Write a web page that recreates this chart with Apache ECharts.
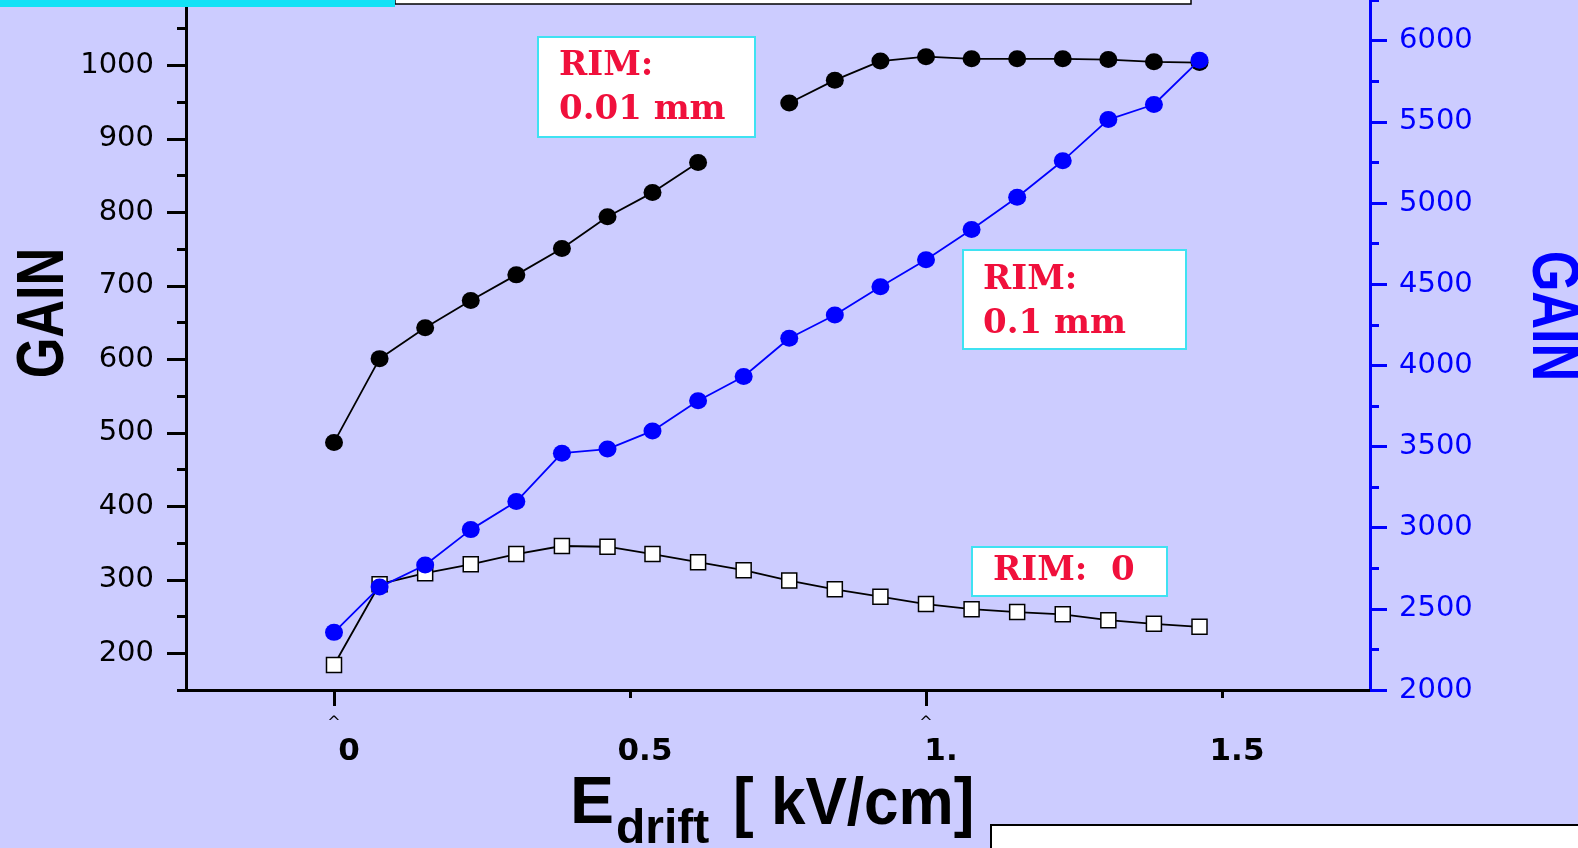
<!DOCTYPE html>
<html>
<head>
<meta charset="utf-8">
<title>GAIN vs E drift</title>
<script src="https://cdn.jsdelivr.net/npm/echarts@6/dist/echarts.min.js"></script>
<style>
  html, body { margin: 0; padding: 0; background: #ccccff; }
  #chart { width: 1578px; height: 848px; }
</style>
</head>
<body>
<div id="chart"></div>
<script>
// Drift field steps (kV/cm)
const eDrift = [0, 0.077, 0.154, 0.231, 0.308, 0.385, 0.462, 0.538, 0.615, 0.692,
                0.769, 0.846, 0.923, 1.0, 1.077, 1.154, 1.231, 1.308, 1.385, 1.462];

// Gain, rim 0.01 mm (left axis); one missing measurement
const gainRim001 = [487, 601, 643, 680, 715, 751, 794, 827, 868, null,
                    949, 980, 1006, 1012, 1009, 1009, 1009, 1008, 1005, 1004];

// Gain, rim 0.1 mm (right axis)
const gainRim01 = [2355, 2634, 2770, 2988, 3161, 3459, 3484, 3596, 3782, 3931,
                   4167, 4310, 4484, 4651, 4837, 5036, 5260, 5514, 5607, 5880];

// Gain, rim 0 (left axis)
const gainRim0 = [184, 294, 309, 321, 335, 346, 345, 335, 324, 313,
                  299, 287, 277, 267, 260, 256, 253, 245, 240, 236];

// Tick values and labels
const leftMajorTicks = [200, 300, 400, 500, 600, 700, 800, 900, 1000];
const rightMajorTicks = [2000, 2500, 3000, 3500, 4000, 4500, 5000, 5500, 6000];
const xTickValues = [0, 0.5, 1, 1.5];
const xTickLabels = ['0', '0.5', '1.', '1.5'];
const xLongTicks = [0, 1];
const xShortTicks = [0.5, 1.5];

const BG = '#ccccff';
const BLUE = '#0000ff';
const RED = '#f0103c';
const CYAN = '#3fe2f2';

const pairs = (vals) => vals.map((v, i) => [eDrift[i], v == null ? '-' : v]);
const plain = (v) => String(v);

const chart = echarts.init(document.getElementById('chart'), null, { renderer: 'canvas' });

const tickFont = { fontFamily: 'DejaVu Sans', fontSize: 29 };

function labelBox(x, y, w, h, text, textX, textTop) {
  return {
    type: 'group', z: 100,
    children: [
      { type: 'rect', shape: { x: x, y: y, width: w, height: h },
        style: { fill: '#ffffff', stroke: CYAN, lineWidth: 2 }, z: 100 },
      { type: 'text', x: textX, y: textTop, z: 101,
        style: { text: text, fill: RED, font: 'bold 34px "DejaVu Serif"',
                 lineHeight: 44, textAlign: 'left', textVerticalAlign: 'top' } }
    ]
  };
}

const option = {
  backgroundColor: BG,
  animation: false,
  grid: { left: 186, right: 208, top: -8, bottom: 158, containLabel: false, outerBoundsMode: 'none' },
  xAxis: [
    {
      type: 'value', position: 'bottom', min: -0.25, max: 1.75,
      axisLine: { onZero: false, lineStyle: { color: '#000', width: 3 } },
      axisTick: { customValues: xShortTicks, length: 8, lineStyle: { color: '#000', width: 3 } },
      axisLabel: {
        customValues: xTickValues,
        formatter: (v) => { const i = xTickValues.findIndex(t => Math.abs(t - v) < 1e-9); return i >= 0 ? xTickLabels[i] : ''; },
        fontFamily: 'DejaVu Sans', fontWeight: 'bold', fontSize: 31, color: '#000',
        margin: 46, padding: [0, 0, 0, 30]
      },
      splitLine: { show: false }
    },
    {
      type: 'value', position: 'bottom', min: -0.25, max: 1.75,
      axisLine: { show: false, onZero: false },
      axisTick: { customValues: xLongTicks, length: 16, lineStyle: { color: '#000', width: 3 } },
      axisLabel: { customValues: xLongTicks, formatter: () => '^', fontFamily: 'DejaVu Sans',
                   fontSize: 16, color: '#000', margin: 25 },
      splitLine: { show: false }
    }
  ],
  yAxis: [
    {
      type: 'value', position: 'left', min: 150, max: 1100, interval: 50,
      axisLine: { show: true, onZero: false, lineStyle: { color: '#000', width: 3 } },
      axisTick: { show: true, length: 9, lineStyle: { color: '#000', width: 3 } },
      axisLabel: { show: false },
      splitLine: { show: false }
    },
    {
      type: 'value', position: 'left', min: 150, max: 1100,
      axisLine: { show: false, onZero: false },
      axisTick: { show: true, customValues: leftMajorTicks, length: 19, lineStyle: { color: '#000', width: 3 } },
      axisLabel: Object.assign({ customValues: leftMajorTicks, formatter: plain, color: '#000', margin: 32 }, tickFont),
      splitLine: { show: false }
    },
    {
      type: 'value', position: 'right', min: 2000, max: 6300, interval: 250,
      axisLine: { show: true, onZero: false, lineStyle: { color: BLUE, width: 3 } },
      axisTick: { show: true, length: 9, lineStyle: { color: BLUE, width: 3 } },
      axisLabel: { show: false },
      splitLine: { show: false }
    },
    {
      type: 'value', position: 'right', min: 2000, max: 6300,
      axisLine: { show: false, onZero: false },
      axisTick: { show: true, customValues: rightMajorTicks, length: 17, lineStyle: { color: BLUE, width: 3 } },
      axisLabel: Object.assign({ customValues: rightMajorTicks, formatter: plain, color: BLUE, margin: 29 }, tickFont),
      splitLine: { show: false }
    }
  ],
  series: [
    {
      name: 'RIM: 0.01 mm', type: 'line', xAxisIndex: 0, yAxisIndex: 0,
      data: pairs(gainRim001), connectNulls: false,
      symbol: 'circle', symbolSize: [18, 17], showAllSymbol: true,
      itemStyle: { color: '#000' },
      lineStyle: { color: '#000', width: 1.8 }, z: 3
    },
    {
      name: 'RIM: 0', type: 'line', xAxisIndex: 0, yAxisIndex: 0,
      data: pairs(gainRim0),
      symbol: 'rect', symbolSize: 15, showAllSymbol: true,
      itemStyle: { color: '#ffffff', borderColor: '#000', borderWidth: 1.5 },
      lineStyle: { color: '#000', width: 1.8 }, z: 4
    },
    {
      name: 'RIM: 0.1 mm', type: 'line', xAxisIndex: 0, yAxisIndex: 2,
      data: pairs(gainRim01),
      symbol: 'circle', symbolSize: [18, 17], showAllSymbol: true,
      itemStyle: { color: BLUE },
      lineStyle: { color: BLUE, width: 1.8 }, z: 5
    }
  ],
  graphic: [
    // header strips along the top edge
    { type: 'rect', z: 100, shape: { x: 395, y: -10, width: 796, height: 14 },
      style: { fill: '#ffffff', stroke: '#000', lineWidth: 1.5 } },
    { type: 'rect', z: 101, shape: { x: 0, y: 0, width: 395, height: 7 },
      style: { fill: '#12e2f6' } },
    // footer box in the lower right corner
    { type: 'rect', z: 100, shape: { x: 991, y: 825, width: 600, height: 40 },
      style: { fill: '#ffffff', stroke: '#000', lineWidth: 2 } },
    // series annotations
    labelBox(538, 37, 217, 100, 'RIM:\n0.01 mm', 559, 44),
    labelBox(963, 250, 223, 99, 'RIM:\n0.1 mm', 983, 258),
    labelBox(972, 547, 195, 49, 'RIM:  0', 993, 549),
    // axis titles
    { type: 'text', z: 100, x: 45, y: 313, rotation: Math.PI / 2, scaleX: 0.78,
      style: { text: 'GAIN', fill: '#000', font: 'bold 67px "Liberation Sans"',
               textAlign: 'center', textVerticalAlign: 'middle' } },
    { type: 'text', z: 100, x: 1551, y: 316, rotation: -Math.PI / 2, scaleX: 0.78,
      style: { text: 'GAIN', fill: BLUE, font: 'bold 67px "Liberation Sans"',
               textAlign: 'center', textVerticalAlign: 'middle' } },
    { type: 'text', z: 100, x: 570, y: 805,
      style: { text: 'E', fill: '#000', font: 'bold 66px "Liberation Sans"',
               textAlign: 'left', textVerticalAlign: 'middle' } },
    { type: 'text', z: 100, x: 616, y: 830,
      style: { text: 'drift', fill: '#000', font: 'bold 48px "Liberation Sans"',
               textAlign: 'left', textVerticalAlign: 'middle' } },
    { type: 'text', z: 100, x: 733, y: 806, scaleX: 0.94,
      style: { text: '[ kV/cm]', fill: '#000', font: 'bold 66px "Liberation Sans"',
               textAlign: 'left', textVerticalAlign: 'middle' } }
  ]
};

chart.setOption(option);
</script>
</body>
</html>
